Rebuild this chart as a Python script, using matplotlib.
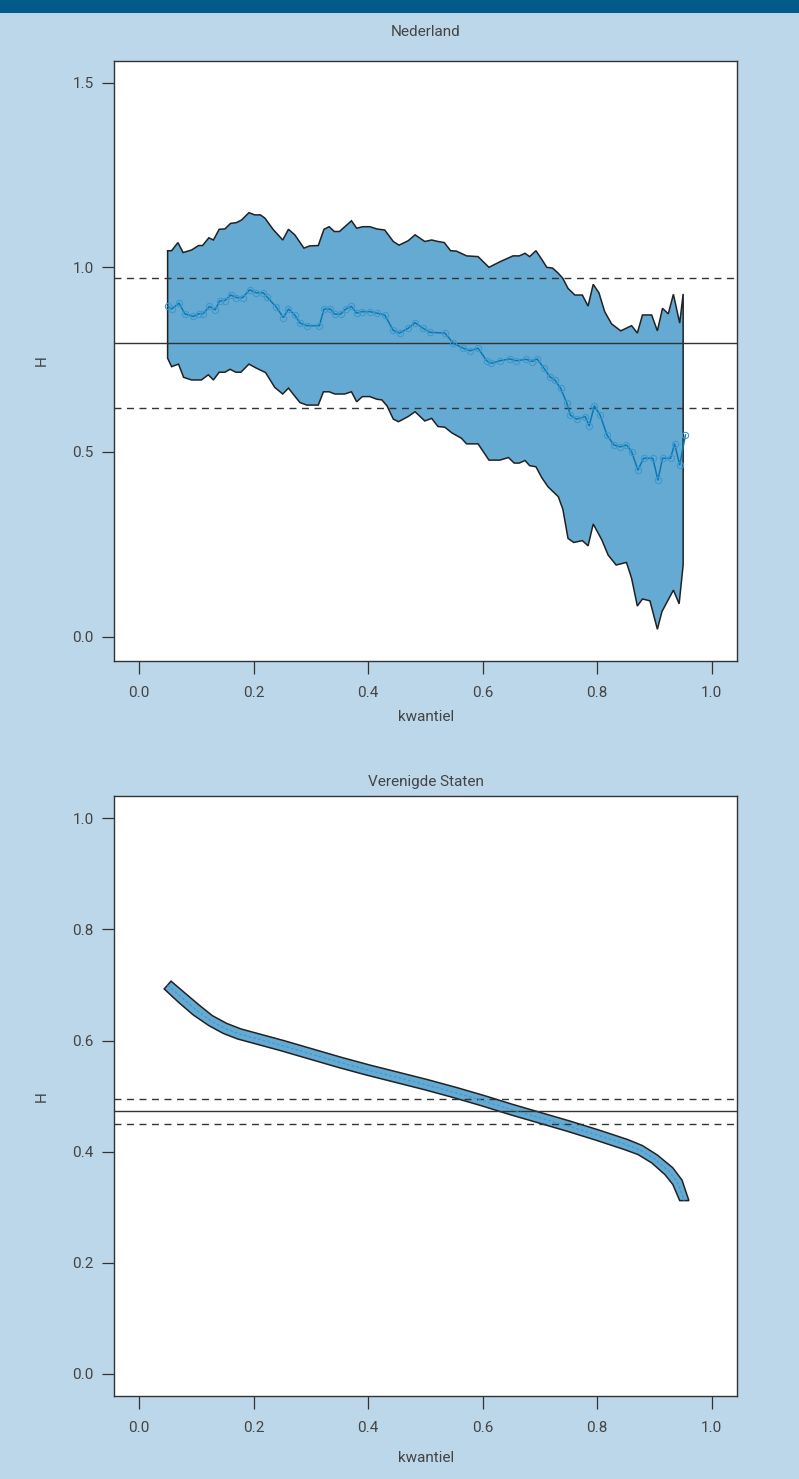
import matplotlib
matplotlib.use("Agg")
import matplotlib.pyplot as plt
from matplotlib.patches import Rectangle

plt.rcParams['font.family'] = ['Roboto', 'DejaVu Sans']
plt.rcParams['lines.scale_dashes'] = False

# ---- Nederland ----
nl_q_upper = [0.050, 0.057, 0.068, 0.077, 0.092, 0.104, 0.111, 0.122, 0.130, 0.140,
              0.150, 0.160, 0.170, 0.179, 0.192, 0.202, 0.212, 0.220, 0.234, 0.251,
              0.261, 0.272, 0.288, 0.298, 0.313, 0.323, 0.332, 0.341, 0.350, 0.371,
              0.380, 0.391, 0.403, 0.415, 0.429, 0.444, 0.454, 0.470, 0.482, 0.499,
              0.511, 0.522, 0.533, 0.544, 0.554, 0.572, 0.592, 0.611, 0.630, 0.653,
              0.664, 0.674, 0.682, 0.693, 0.703, 0.712, 0.722, 0.732, 0.740, 0.749,
              0.761, 0.774, 0.784, 0.793, 0.803, 0.813, 0.825, 0.841, 0.860, 0.870,
              0.879, 0.895, 0.905, 0.914, 0.924, 0.933, 0.944, 0.950]
nl_upper = [1.045, 1.045, 1.067, 1.040, 1.047, 1.059, 1.059, 1.080, 1.074, 1.103,
            1.104, 1.119, 1.121, 1.128, 1.148, 1.142, 1.142, 1.133, 1.103, 1.074,
            1.103, 1.088, 1.052, 1.058, 1.059, 1.103, 1.110, 1.097, 1.097, 1.126,
            1.106, 1.110, 1.110, 1.104, 1.101, 1.070, 1.060, 1.072, 1.088, 1.070,
            1.074, 1.070, 1.067, 1.045, 1.044, 1.031, 1.029, 1.000, 1.015, 1.031,
            1.031, 1.038, 1.029, 1.045, 1.022, 1.000, 0.998, 0.984, 0.970, 0.943,
            0.925, 0.925, 0.895, 0.954, 0.931, 0.880, 0.847, 0.828, 0.842, 0.822,
            0.871, 0.871, 0.828, 0.889, 0.874, 0.927, 0.849, 0.928]

nl_q_lower = [0.050, 0.057, 0.069, 0.078, 0.092, 0.109, 0.121, 0.130, 0.140, 0.150,
              0.159, 0.169, 0.178, 0.192, 0.205, 0.221, 0.237, 0.251, 0.261, 0.269,
              0.281, 0.293, 0.313, 0.322, 0.332, 0.342, 0.359, 0.371, 0.380, 0.390,
              0.403, 0.415, 0.424, 0.433, 0.444, 0.453, 0.470, 0.482, 0.499, 0.511,
              0.522, 0.534, 0.546, 0.563, 0.572, 0.592, 0.611, 0.630, 0.645, 0.655,
              0.664, 0.674, 0.682, 0.693, 0.703, 0.714, 0.732, 0.740, 0.749, 0.759,
              0.774, 0.784, 0.793, 0.808, 0.819, 0.833, 0.851, 0.860, 0.870, 0.879,
              0.892, 0.905, 0.913, 0.933, 0.943, 0.950]
nl_lower = [0.754, 0.731, 0.738, 0.702, 0.695, 0.695, 0.709, 0.695, 0.716, 0.716,
            0.724, 0.716, 0.716, 0.738, 0.727, 0.715, 0.675, 0.657, 0.673, 0.657,
            0.634, 0.627, 0.627, 0.663, 0.663, 0.657, 0.657, 0.663, 0.636, 0.650,
            0.650, 0.643, 0.641, 0.625, 0.589, 0.582, 0.596, 0.609, 0.584, 0.591,
            0.569, 0.567, 0.552, 0.537, 0.522, 0.522, 0.478, 0.478, 0.485, 0.470,
            0.470, 0.477, 0.463, 0.460, 0.431, 0.406, 0.379, 0.345, 0.266, 0.255,
            0.260, 0.246, 0.305, 0.262, 0.221, 0.194, 0.201, 0.158, 0.083, 0.102,
            0.097, 0.020, 0.068, 0.126, 0.089, 0.194]

nl_q_est = [0.050, 0.057, 0.070, 0.080, 0.095, 0.104, 0.112, 0.123, 0.133, 0.141,
            0.150, 0.160, 0.170, 0.181, 0.193, 0.205, 0.217, 0.224, 0.240, 0.252,
            0.261, 0.272, 0.281, 0.293, 0.315, 0.323, 0.334, 0.342, 0.352, 0.361,
            0.371, 0.380, 0.389, 0.403, 0.415, 0.429, 0.444, 0.455, 0.470, 0.482,
            0.496, 0.508, 0.534, 0.549, 0.566, 0.578, 0.592, 0.607, 0.615, 0.630,
            0.647, 0.659, 0.676, 0.687, 0.695, 0.707, 0.717, 0.726, 0.736, 0.747,
            0.753, 0.764, 0.779, 0.786, 0.795, 0.805, 0.817, 0.829, 0.840, 0.851,
            0.860, 0.871, 0.881, 0.897, 0.906, 0.914, 0.928, 0.935, 0.944, 0.954]
nl_est = [0.894, 0.887, 0.903, 0.874, 0.867, 0.874, 0.874, 0.894, 0.885, 0.909,
          0.910, 0.925, 0.918, 0.918, 0.939, 0.931, 0.931, 0.919, 0.892, 0.864,
          0.887, 0.871, 0.849, 0.842, 0.842, 0.887, 0.887, 0.873, 0.873, 0.887,
          0.894, 0.876, 0.880, 0.880, 0.876, 0.871, 0.829, 0.822, 0.835, 0.850,
          0.835, 0.824, 0.822, 0.794, 0.781, 0.774, 0.781, 0.747, 0.740, 0.747,
          0.752, 0.747, 0.751, 0.745, 0.752, 0.727, 0.704, 0.695, 0.673, 0.632,
          0.600, 0.589, 0.596, 0.571, 0.625, 0.600, 0.546, 0.519, 0.514, 0.519,
          0.501, 0.451, 0.483, 0.483, 0.424, 0.483, 0.483, 0.522, 0.465, 0.546]

nl_mean = 0.795
nl_band = [0.970, 0.620]

# ---- Verenigde Staten ----
us_q = [0.050, 0.075, 0.100, 0.125, 0.150, 0.175, 0.200, 0.250, 0.300, 0.350,
        0.400, 0.450, 0.500, 0.550, 0.600, 0.650, 0.700, 0.750, 0.800, 0.850,
        0.875, 0.900, 0.925, 0.940, 0.952]
us_est = [0.700, 0.677, 0.655, 0.636, 0.622, 0.612, 0.605, 0.591, 0.576, 0.561,
          0.547, 0.534, 0.521, 0.507, 0.492, 0.476, 0.461, 0.446, 0.430, 0.413,
          0.403, 0.387, 0.365, 0.345, 0.312]
us_q_upper = [0.056, 0.081, 0.105, 0.128, 0.153, 0.178, 0.203, 0.253, 0.303, 0.353,
              0.403, 0.453, 0.503, 0.553, 0.603, 0.653, 0.703, 0.753, 0.803, 0.853,
              0.879, 0.905, 0.932, 0.948, 0.960]
us_upper = [0.707, 0.685, 0.664, 0.645, 0.631, 0.621, 0.614, 0.600, 0.585, 0.570,
            0.556, 0.543, 0.530, 0.516, 0.501, 0.485, 0.470, 0.455, 0.439, 0.422,
            0.411, 0.394, 0.371, 0.349, 0.312]
us_q_lower = [0.044, 0.069, 0.095, 0.122, 0.147, 0.172, 0.197, 0.247, 0.297, 0.347,
              0.397, 0.447, 0.497, 0.547, 0.597, 0.647, 0.697, 0.747, 0.797, 0.847,
              0.871, 0.895, 0.918, 0.932, 0.944]
us_lower = [0.693, 0.669, 0.646, 0.627, 0.613, 0.603, 0.596, 0.582, 0.567, 0.552,
            0.538, 0.525, 0.512, 0.498, 0.483, 0.467, 0.452, 0.437, 0.421, 0.404,
            0.395, 0.380, 0.359, 0.341, 0.312]
us_mean = 0.473
us_band = [0.495, 0.450]

xticks = [0.0, 0.2, 0.4, 0.6, 0.8, 1.0]

bg = '#bcd7e9'
fill_c = '#64aad3'
line_c = '#0c78b2'
mark_c = '#3f98cd'
ink = '#333333'
txt = '#444444'

fig = plt.figure(figsize=(7.99, 14.79), dpi=100, facecolor=bg)
fig.add_artist(Rectangle((0, 1 - 13 / 1479), 1, 13 / 1479, transform=fig.transFigure,
                         facecolor='#005b8a', edgecolor='none'))

ax1 = fig.add_axes([0.1431, 0.5529, 0.7793, 0.4059])
ax2 = fig.add_axes([0.1431, 0.0560, 0.7793, 0.4057])


def style(ax, yticks, ylim, xlab_y):
    ax.set_facecolor('white')
    ax.set_xlim(-0.043, 1.044)
    ax.set_ylim(*ylim)
    ax.set_xticks(xticks)
    ax.set_xticklabels(['%.1f' % t for t in xticks])
    ax.set_yticks(yticks)
    ax.set_yticklabels(['%.1f' % t for t in yticks])
    for s in ax.spines.values():
        s.set_color(ink)
        s.set_linewidth(1.0)
    ax.tick_params(axis='both', direction='out', length=9, width=0.9, color=ink,
                   labelcolor=txt, labelsize=11)
    ax.tick_params(axis='x', pad=9)
    ax.tick_params(axis='y', pad=6)
    ax.set_xlabel('kwantiel', fontsize=11, color=txt)
    ax.xaxis.set_label_coords(0.5, xlab_y)
    ax.xaxis.label.set_va('center')
    ax.set_ylabel('H', fontsize=11, color=txt)
    ax.yaxis.set_label_coords(-0.116, 0.5)
    ax.yaxis.label.set_va('center')


# top panel
ax1.fill(nl_q_upper + nl_q_lower[::-1], nl_upper + nl_lower[::-1],
         facecolor=fill_c, edgecolor='#222222', linewidth=1.1, zorder=2)
ax1.axhline(nl_mean, color=ink, lw=1.0, zorder=3)
for v in nl_band:
    ax1.axhline(v, color=ink, lw=1.0, dashes=(5, 4), zorder=3)
ax1.plot(nl_q_est, nl_est, color=line_c, lw=1.1, zorder=4)
ax1.plot(nl_q_est, nl_est, linestyle='none', marker='o', ms=4.5, mfc='none',
         mec=mark_c, mew=0.8, zorder=4)
style(ax1, [0.0, 0.5, 1.0, 1.5], (-0.0666, 1.5588), -0.093)

# bottom panel
ax2.fill(us_q_upper + us_q_lower[::-1], us_upper + us_lower[::-1],
         facecolor=fill_c, edgecolor='#222222', linewidth=1.1, zorder=2)
ax2.axhline(us_mean, color=ink, lw=1.0, zorder=3)
for v in us_band:
    ax2.axhline(v, color=ink, lw=1.0, dashes=(5, 4), zorder=3)
ax2.plot(us_q, us_est, color=mark_c, lw=0.8, linestyle=(0, (2, 1.5)), zorder=4)
style(ax2, [0.0, 0.2, 0.4, 0.6, 0.8, 1.0], (-0.04, 1.04), -0.103)

fig.text(0.5326, 1 - 32 / 1479, 'Nederland', ha='center', va='center',
         fontsize=11, color=txt)
fig.text(0.5326, 1 - 782 / 1479, 'Verenigde Staten', ha='center', va='center',
         fontsize=11, color=txt)

fig.savefig('out.png', dpi=100, facecolor=bg)
